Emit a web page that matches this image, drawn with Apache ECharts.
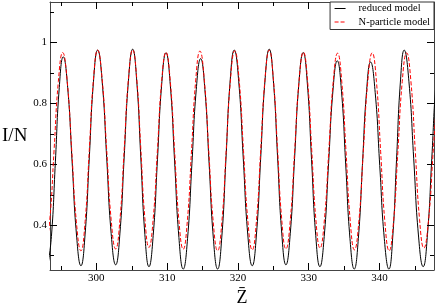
<!DOCTYPE html>
<html><head><meta charset="utf-8">
<script src="https://cdn.jsdelivr.net/npm/echarts@6/dist/echarts.min.js"></script>
<style>html,body{margin:0;padding:0;background:#fff}#c{width:436px;height:304px}</style>
</head><body><div id="c"></div>
<script>
const seriesNames = ['reduced model', 'N-particle model'];
const xRange = [293.45, 347.7];
const yRange = [0.253, 1.133];
const xMajorTicks = [300, 310, 320, 330, 340];
const xMinorTicks = [295, 305, 315, 325, 335, 345];
const yMajorTicks = [0.4, 0.6, 0.8, 1.0];
const yMinorTicks = [0.3, 0.5, 0.7, 0.9, 1.1];

const reducedZ = [293.10,293.65,294.21,294.76,295.32,295.945,296.57,297.195,297.82,298.41,299.00,299.59,300.18,300.82,301.455,302.09,302.73,303.33,303.93,304.53,305.13,305.705,306.28,306.855,307.43,308.03,308.63,309.23,309.83,310.44,311.05,311.66,312.27,312.885,313.50,314.115,314.73,315.33,315.93,316.53,317.13,317.72,318.305,318.89,319.48,320.115,320.75,321.385,322.02,322.62,323.22,323.82,324.42,325.01,325.60,326.19,326.78,327.39,328.00,328.61,329.22,329.81,330.40,330.99,331.58,332.19,332.805,333.42,334.03,334.63,335.23,335.83,336.43,337.01,337.585,338.16,338.74,339.39,340.035,340.68,341.33,341.87,342.41,342.95,343.49,344.16,344.83,345.50,346.17,346.78,347.39,348.00,348.60];
const reducedI = [0.262,0.363,0.608,0.852,0.953,0.853,0.610,0.368,0.267,0.371,0.621,0.871,0.975,0.872,0.623,0.373,0.270,0.374,0.624,0.874,0.978,0.873,0.621,0.369,0.264,0.367,0.615,0.863,0.966,0.862,0.611,0.360,0.256,0.357,0.602,0.846,0.947,0.846,0.602,0.357,0.256,0.361,0.616,0.870,0.975,0.871,0.621,0.371,0.267,0.371,0.623,0.874,0.978,0.874,0.624,0.374,0.270,0.372,0.619,0.865,0.967,0.864,0.616,0.367,0.264,0.363,0.602,0.841,0.940,0.840,0.598,0.356,0.256,0.356,0.596,0.836,0.936,0.836,0.596,0.356,0.256,0.361,0.616,0.870,0.975,0.871,0.620,0.368,0.264,0.370,0.620,0.870,0.970];

const particleZ = [292.80,293.41,294.02,294.63,295.24,295.885,296.53,297.175,297.82,298.41,299.00,299.59,300.18,300.82,301.455,302.09,302.73,303.33,303.93,304.53,305.13,305.705,306.28,306.855,307.43,308.03,308.63,309.23,309.83,310.44,311.05,311.66,312.27,312.86,313.45,314.04,314.63,315.255,315.88,316.505,317.13,317.735,318.34,318.945,319.55,320.17,320.785,321.40,322.02,322.62,323.22,323.82,324.42,325.01,325.60,326.19,326.78,327.40,328.015,328.63,329.25,329.84,330.425,331.01,331.60,332.22,332.84,333.46,334.08,334.675,335.27,335.865,336.46,337.09,337.715,338.34,338.97,339.57,340.165,340.76,341.36,341.98,342.595,343.21,343.83,344.44,345.05,345.66,346.27,346.90,347.55,348.20];
const particleI = [0.320,0.415,0.644,0.872,0.967,0.872,0.642,0.411,0.316,0.412,0.646,0.879,0.975,0.879,0.649,0.418,0.322,0.418,0.649,0.880,0.976,0.881,0.652,0.422,0.327,0.421,0.648,0.874,0.968,0.873,0.645,0.416,0.321,0.416,0.647,0.877,0.972,0.876,0.644,0.412,0.316,0.412,0.645,0.877,0.973,0.877,0.646,0.415,0.319,0.415,0.647,0.879,0.975,0.879,0.649,0.418,0.322,0.417,0.645,0.873,0.968,0.874,0.647,0.419,0.325,0.419,0.645,0.871,0.965,0.870,0.642,0.414,0.319,0.414,0.643,0.871,0.966,0.871,0.641,0.411,0.316,0.411,0.641,0.871,0.966,0.872,0.646,0.419,0.325,0.410,0.630,0.860];

const FONT = 'Liberation Serif';
const AXIS_COLOR = '#444';
const zip = (a, b) => a.map((v, i) => [v, b[i]]);

function xAxisDef(grid, pos, ticks, len, major, labels) {
  return {
    type: 'value', gridIndex: grid, position: pos, min: xRange[0], max: xRange[1],
    axisLine: { show: major, onZero: false, lineStyle: { color: AXIS_COLOR, width: 1 } },
    axisTick: { show: true, inside: true, length: len, customValues: ticks, lineStyle: { color: '#000', width: 1 } },
    axisLabel: labels ? { show: true, customValues: ticks, margin: 3, color: '#000', fontFamily: FONT, fontSize: 11 } : { show: false },
    splitLine: { show: false },
    name: labels ? 'Z\u0304' : '', nameLocation: 'middle', nameGap: 15,
    nameTextStyle: { fontFamily: FONT, fontSize: 18, color: '#000' }
  };
}
function yAxisDef(grid, pos, ticks, len, major, labels) {
  return {
    type: 'value', gridIndex: grid, position: pos, min: yRange[0], max: yRange[1],
    axisLine: { show: major, onZero: false, lineStyle: { color: AXIS_COLOR, width: 1 } },
    axisTick: { show: true, inside: true, length: len, customValues: ticks, lineStyle: { color: '#000', width: 1 } },
    axisLabel: labels ? { show: true, customValues: ticks, margin: 3, color: '#000', fontFamily: FONT, fontSize: 11,
      formatter: v => (Math.abs(v - 1) < 1e-9 ? '1' : String(Math.round(v * 10) / 10)) } : { show: false },
    splitLine: { show: false },
    name: labels ? 'I/N' : '', nameLocation: 'middle', nameGap: 22, nameRotate: 0,
    nameTextStyle: { fontFamily: FONT, fontSize: 19, color: '#000' }
  };
}

const chart = echarts.init(document.getElementById('c'), null, { renderer: 'canvas' });
const gridBox = { left: 50, right: 2, top: 2, bottom: 34, containLabel: false, outerBoundsMode: 'none' };
chart.setOption({
  animation: false,
  backgroundColor: '#fff',
  grid: [Object.assign({}, gridBox), Object.assign({}, gridBox)],
  xAxis: [
    xAxisDef(0, 'bottom', xMajorTicks, 7, true, true),
    xAxisDef(0, 'top', xMajorTicks, 7, true, false),
    xAxisDef(1, 'bottom', xMinorTicks, 4, false, false),
    xAxisDef(1, 'top', xMinorTicks, 4, false, false)
  ],
  yAxis: [
    yAxisDef(0, 'left', yMajorTicks, 7, true, true),
    yAxisDef(0, 'right', yMajorTicks, 7, true, false),
    yAxisDef(1, 'left', yMinorTicks, 4, false, false),
    yAxisDef(1, 'right', yMinorTicks, 4, false, false)
  ],
  legend: {
    orient: 'vertical', right: 2, top: 2, padding: [1, 4, 2, 4], itemGap: 2.5,
    itemWidth: 11, itemHeight: 11, borderColor: '#333', borderWidth: 1, backgroundColor: '#fff',
    itemStyle: { opacity: 0 },
    lineStyle: { width: 1 },
    textStyle: { fontFamily: FONT, fontSize: 10.5, color: '#000', padding: [0, 0, 0, 8] },
    data: seriesNames
  },
  series: [
    { name: seriesNames[0], type: 'line', xAxisIndex: 0, yAxisIndex: 0, data: zip(reducedZ, reducedI),
      symbol: 'none', smooth: 0.5, lineStyle: { color: '#000', width: 1 }, itemStyle: { color: '#000' } },
    { name: seriesNames[1], type: 'line', xAxisIndex: 0, yAxisIndex: 0, data: zip(particleZ, particleI),
      symbol: 'none', smooth: 0.5, lineStyle: { color: '#ff0000', width: 1, type: [4, 2] }, itemStyle: { color: '#ff0000' } }
  ]
});
</script></body></html>
